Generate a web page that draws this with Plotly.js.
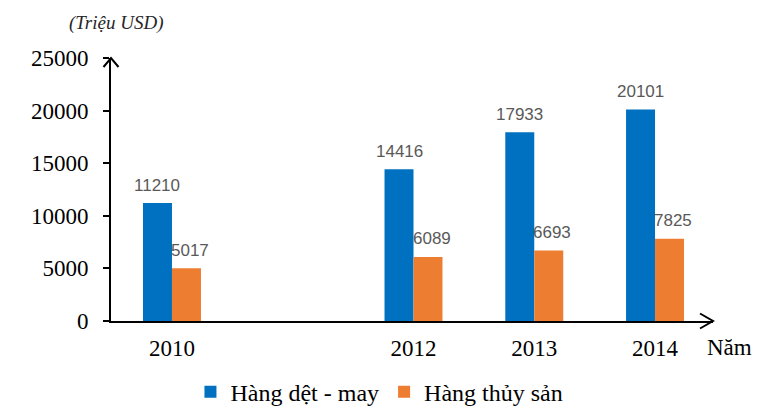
<!DOCTYPE html>
<html>
<head>
<meta charset="utf-8">
<script src="https://cdn.plot.ly/plotly-3.0.1.min.js"></script>
<style>
  html, body { margin: 0; padding: 0; background: #fff; }
  #chart { width: 784px; height: 414px; }
</style>
</head>
<body>
<div id="chart"></div>
<script>
// years (2011 is missing, the axis is linear so the gap shows)
var years = [2010, 2012, 2013, 2014];
var detMay = [11210, 14416, 17933, 20101];
var thuySan = [5017, 6089, 6693, 7825];
var seriesNames = ['Hàng dệt - may', 'Hàng thủy sản'];
var yTicks = [0, 5000, 10000, 15000, 20000, 25000];

var blue = '#0070C0';
var orange = '#ED7D31';
var serif = '"Liberation Serif", "Times New Roman", serif';

var data = [
    {
        type: 'bar',
        name: seriesNames[0],
        x: years,
        y: detMay,
        marker: { color: blue },
        hoverinfo: 'none'
    },
    {
        type: 'bar',
        name: seriesNames[1],
        x: years,
        y: thuySan,
        marker: { color: orange },
        hoverinfo: 'none'
    }
];

// value labels above the bars
var annotations = [];
for (var i = 0; i < years.length; i++) {
    annotations.push({
        x: years[i], y: detMay[i], text: String(detMay[i]),
        xref: 'x', yref: 'y', showarrow: false,
        xshift: -14.5, yshift: 18, yanchor: 'middle',
        font: { family: '"Liberation Sans", Arial, sans-serif', size: 17, color: '#595959' }
    });
    annotations.push({
        x: years[i], y: thuySan[i], text: String(thuySan[i]),
        xref: 'x', yref: 'y', showarrow: false,
        xshift: 18, yshift: 18, yanchor: 'middle',
        font: { family: '"Liberation Sans", Arial, sans-serif', size: 17, color: '#595959' }
    });
}

// unit and axis name
annotations.push({
    x: 0, y: 1, xref: 'paper', yref: 'paper', showarrow: false,
    xshift: 5, yshift: 35, xanchor: 'center', yanchor: 'middle',
    text: '(Triệu USD)',
    font: { family: serif, size: 19, color: '#262626', style: 'italic' }
});
annotations.push({
    x: 1, y: 0, xref: 'paper', yref: 'paper', showarrow: false,
    xshift: -8, yshift: -26, xanchor: 'left', yanchor: 'middle',
    text: 'Năm',
    font: { family: serif, size: 23, color: '#000' }
});

var layout = {
    width: 784,
    height: 414,
    margin: { l: 111, r: 71, t: 58, b: 93 },
    paper_bgcolor: '#fff',
    plot_bgcolor: '#fff',
    barmode: 'group',
    bargap: 0.52,
    bargroupgap: 0,
    showlegend: true,
    legend: {
        orientation: 'h',
        xref: 'container', yref: 'container',
        x: 0.484, xanchor: 'center',
        y: 0.053, yanchor: 'middle',
        font: { family: serif, size: 24, color: '#000' },
        traceorder: 'normal'
    },
    xaxis: {
        range: [2009.495, 2014.48],
        tickvals: years,
        ticktext: years.map(String),
        showgrid: false,
        zeroline: false,
        showline: true,
        linecolor: '#000',
        linewidth: 2,
        ticks: '',
        ticklabelstandoff: 5,
        tickfont: { family: serif, size: 23, color: '#000' },
        fixedrange: true
    },
    yaxis: {
        range: [0, 25000],
        tickvals: yTicks,
        tickformat: 'd',
        showgrid: false,
        zeroline: false,
        showline: true,
        linecolor: '#000',
        linewidth: 2,
        ticks: 'outside',
        ticklen: 6,
        tickwidth: 2,
        tickcolor: '#000',
        ticklabelstandoff: 10,
        tickfont: { family: serif, size: 23, color: '#000' },
        fixedrange: true
    },
    shapes: [
        // arrow head on top of the y axis
        {
            type: 'path', xref: 'paper', yref: 'paper',
            xsizemode: 'pixel', ysizemode: 'pixel', xanchor: 0, yanchor: 1,
            path: 'M -7.5,-9 L 0,0 L 7.5,-9',
            line: { color: '#000', width: 2 }
        },
        // arrow head at the end of the x axis
        {
            type: 'path', xref: 'paper', yref: 'paper',
            xsizemode: 'pixel', ysizemode: 'pixel', xanchor: 1, yanchor: 0,
            path: 'M -13,7.5 L 0,0 L -13,-7.5',
            line: { color: '#000', width: 2 }
        }
    ],
    annotations: annotations
};

Plotly.newPlot('chart', data, layout, { displayModeBar: false, staticPlot: true });
</script>
</body>
</html>
